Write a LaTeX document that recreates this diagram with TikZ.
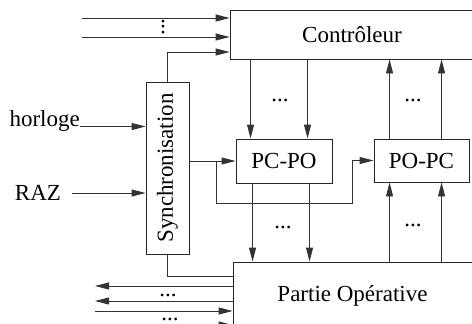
\documentclass[tikz,border=0pt]{standalone}
\usepackage{fontspec}
\setmainfont{Liberation Serif}
\usetikzlibrary{arrows.meta}
\begin{document}
\begin{tikzpicture}[x=1pt,y=-1pt,
  every node/.style={font=\fontsize{23}{27}\selectfont, inner sep=0pt},
  box/.style={draw=black!85, line width=0.9pt, rectangle},
  ln/.style={draw=black!80, line width=0.9pt},
  arr/.style={ln, -{Triangle[length=14pt,width=7pt]}},
  dotsn/.style={font=\fontsize{23}{27}\selectfont}]
\useasboundingbox (0,0) rectangle (472,324);
\clip (0,0) rectangle (472,324);

% boxes
\node[box, minimum width=244pt, minimum height=49pt] (ctrl) at (352,34.5) {Contrôleur};
\node[box, minimum width=43pt, minimum height=172pt] (sync) at (167.5,168) {\rotatebox{90}{Synchronisation}};
\node[box, minimum width=96pt, minimum height=44pt] (pcpo) at (284,161) {PC-PO};
\node[box, minimum width=95pt, minimum height=43pt] (popc) at (421.5,160.5) {PO-PC};
\node[box, minimum width=239pt, minimum height=68pt] (po) at (352.5,296) {Partie Opérative};

% labels
\node[anchor=base east] (horloge) at (80,126.5) {horloge};
\node (raz) at (38,193) {RAZ};

% inputs to controleur
\coordinate (i1) at (82,18);
\coordinate (i2) at (82,37);
\coordinate (c3) at ([yshift=-17.5pt]ctrl.west);
\draw[arr] (i1) -- (i1 -| ctrl.west);
\draw[arr] (i2) -- (i2 -| ctrl.west);
\draw[arr] (sync.north) |- (c3);
\node[dotsn, rotate=90] (vd) at (163,27) {...};

% horloge, RAZ
\draw[arr] (horloge.base east) -- (horloge.base east -| sync.west);
\draw[arr] ([xshift=11pt]raz.east) -- (raz.east -| sync.west);

% sync to PC-PO and PO-PC
\coordinate (j) at ([xshift=-19pt]pcpo.west);
\coordinate (b1) at (352,203);
\draw[arr] (sync.east |- pcpo.west) -- (pcpo.west);
\draw[arr] (j) |- (b1) |- (popc.west);

% controleur -> PC-PO
\coordinate (a1) at ([xshift=15pt]pcpo.north west);
\coordinate (a2) at ([xshift=72pt]pcpo.north west);
\draw[arr] (a1 |- ctrl.south) -- (a1);
\draw[arr] (a2 |- ctrl.south) -- (a2);
\node[dotsn] (dt1) at (280,100) {...};

% PC-PO -> PO
\coordinate (d1) at ([xshift=17pt]pcpo.south west);
\coordinate (d2) at ([xshift=74pt]pcpo.south west);
\draw[arr] (d1) -- (d1 |- po.north);
\draw[arr] (d2) -- (d2 |- po.north);
\node[dotsn] (dt2) at (283,227) {...};

% PO -> PO-PC -> controleur
\coordinate (u1) at ([xshift=16pt]popc.north west);
\coordinate (u2) at ([xshift=68pt]popc.north west);
\draw[arr] (u1 |- po.north) -- (u1 |- popc.south);
\draw[arr] (u2 |- po.north) -- (u2 |- popc.south);
\draw[arr] (u1) -- (u1 |- ctrl.south);
\draw[arr] (u2) -- (u2 |- ctrl.south);
\node[dotsn] (dt3) at (413,100) {...};
\node[dotsn] (dt4) at (413,225) {...};

% sync -> PO
\coordinate (lv) at (100,276);
\draw[ln] (sync.south) |- (lv -| po.west);

% outputs / inputs of PO
\coordinate (o1) at (95,286);
\coordinate (o2) at (95,301);
\coordinate (o3) at (95,311);
\coordinate (o4) at (95,325);
\draw[arr] (o1 -| po.west) -- (o1);
\draw[arr] (o2 -| po.west) -- (o2);
\draw[arr] (o3) -- (o3 -| po.west);
\draw[arr] (o4) -- (o4 -| po.west);
\node[dotsn] (dt5) at (168,295) {...};
\node[dotsn] (dt6) at (170,319) {...};
\end{tikzpicture}
\end{document}
